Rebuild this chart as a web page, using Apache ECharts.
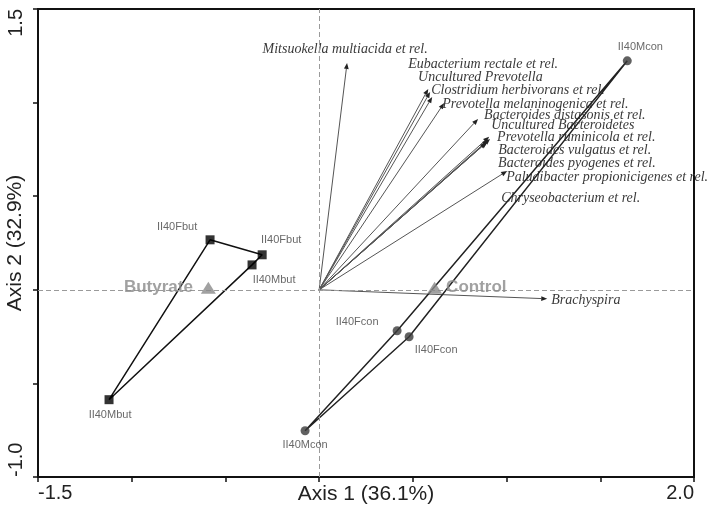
<!DOCTYPE html>
<html>
<head>
<meta charset="utf-8">
<script src="https://cdn.jsdelivr.net/npm/echarts@6/dist/echarts.min.js"></script>
<style>
  html, body { margin: 0; padding: 0; background: #fff; }
  #chart { width: 721px; height: 510px; }
</style>
</head>
<body>
<div id="chart"></div>
<script>
// Ordination scores (Axis 1, Axis 2)
const butyrateNames = ['II40Fbut', 'II40Fbut', 'II40Mbut', 'II40Mbut'];
const butyrateX = [-0.582, -0.304, -0.358, -1.121];
const butyrateY = [0.267, 0.187, 0.133, -0.587];

const controlNames = ['II40Mcon', 'II40Mcon', 'II40Fcon', 'II40Fcon'];
const controlX = [1.644, -0.075, 0.416, 0.480];
const controlY = [1.223, -0.753, -0.219, -0.251];

// Envelope drawing order (indices into the sample arrays)
const butyrateHull = [3, 0, 1, 2, 3];
const controlHull = [0, 2, 1, 3, 0];

const groupNames = ['Butyrate', 'Control'];
const groupX = [-0.591, 0.616];
const groupY = [0.0, 0.0];

// Species vectors
const speciesNames = [
  'Mitsuokella multiacida et rel.',
  'Eubacterium rectale et rel.',
  'Uncultured Prevotella',
  'Clostridium herbivorans et rel.',
  'Prevotella melaninogenica et rel.',
  'Bacteroides distasonis et rel.',
  'Uncultured Bacteroidetes',
  'Prevotella ruminicola et rel.',
  'Bacteroides vulgatus et rel.',
  'Bacteroides pyogenes et rel.',
  'Paludibacter propionicigenes et rel.',
  'Chryseobacterium et rel.',
  'Brachyspira'
];
const speciesX = [0.149, 0.582, 0.592, 0.603, 0.667, 0.848, 0.907, 0.912, 0.902, 0.896, 1.003, 0.891, 1.217];
const speciesY = [1.212, 1.073, 1.057, 1.030, 0.998, 0.913, 0.817, 0.806, 0.801, 0.790, 0.635, 0.785, -0.048];

// Axis ticks
const xTicks = { min: -1.5, max: 2.0, step: 0.5 };
const yTicks = { min: -1.0, max: 1.5, step: 0.5 };
const xAxisTitle = 'Axis 1 (36.1%)';
const yAxisTitle = 'Axis 2 (32.9%)';

// Label placement (pixel offsets from the arrow tip / marker)
const speciesLabelLayout = [
  [-2, -14, 'center'], [-20, -25], [-12, -15], [-1, -7], [-2, 1], [6, -4],
  [2, -12], [7, -2], [10, 10], [11, 21], [-1, 6], [15, 55], [4, 2]
];
const butyrateLabelOffset = [[-33, -13], [19, -15], [22, 15], [1, 15]];
const controlLabelOffset = [[13, -14], [0, 14], [-40, -9], [27, 13]];

const sansFont = '"Liberation Sans", Arial, sans-serif';

function samplePoints(xs, ys, names, offsets) {
  return xs.map((x, i) => ({
    value: [x, ys[i]],
    name: names[i],
    label: { offset: offsets[i] }
  }));
}
function hullPoints(xs, ys, order) {
  return order.map(i => [xs[i], ys[i]]);
}

const chart = echarts.init(document.getElementById('chart'), null, { renderer: 'canvas' });

const tickFormatter = (lo, hi) => v => (Math.abs(v - lo) < 1e-9 || Math.abs(v - hi) < 1e-9) ? v.toFixed(1) : '';

const option = {
  backgroundColor: '#fff',
  animation: false,
  grid: {
    left: 38, right: 27, top: 9, bottom: 33,
    show: true, borderColor: '#111', borderWidth: 2,
    containLabel: false, outerBoundsMode: 'none'
  },
  xAxis: {
    type: 'value', min: xTicks.min, max: xTicks.max, interval: xTicks.step,
    name: xAxisTitle, nameLocation: 'middle', nameGap: 7, nameMoveOverlap: false,
    nameTextStyle: { fontFamily: sansFont, fontSize: 21, color: '#222', verticalAlign: 'top' },
    axisLine: { show: true, onZero: false, lineStyle: { color: '#111', width: 2 } },
    axisTick: { show: true, length: 5, lineStyle: { color: '#111', width: 1.5 } },
    splitLine: { show: false },
    axisLabel: {
      fontFamily: sansFont, fontSize: 20, color: '#222', margin: 6,
      formatter: tickFormatter(xTicks.min, xTicks.max),
      alignMinLabel: 'left', alignMaxLabel: 'right'
    }
  },
  yAxis: {
    type: 'value', min: yTicks.min, max: yTicks.max, interval: yTicks.step,
    name: yAxisTitle, nameLocation: 'middle', nameGap: 12, nameRotate: 90, nameMoveOverlap: false,
    nameTextStyle: { fontFamily: sansFont, fontSize: 21, color: '#222' },
    axisLine: { show: true, onZero: false, lineStyle: { color: '#111', width: 2 } },
    axisTick: { show: true, length: 5, lineStyle: { color: '#111', width: 1.5 } },
    splitLine: { show: false },
    axisLabel: {
      fontFamily: sansFont, fontSize: 20, color: '#222', margin: 12, rotate: 90,
      formatter: tickFormatter(yTicks.min, yTicks.max),
      alignMinLabel: 'left', alignMaxLabel: 'right'
    }
  },
  series: [
    {
      // dashed zero reference lines
      type: 'line', data: [], silent: true,
      markLine: {
        silent: true, symbol: 'none', animation: false,
        label: { show: false },
        lineStyle: { color: '#9a9a9a', type: [5, 3], width: 1 },
        data: [{ xAxis: 0 }, { yAxis: 0 }]
      }
    },
    {
      // species arrows
      type: 'custom', clip: false, silent: true, z: 3,
      data: speciesX.map((x, i) => [x, speciesY[i]]),
      renderItem(params, api) {
        const o = api.coord([0, 0]);
        const t = api.coord([api.value(0), api.value(1)]);
        const i = params.dataIndex;
        const ang = Math.atan2(t[1] - o[1], t[0] - o[0]);
        const L = 6, W = 2.4;
        const c = Math.cos(ang), s = Math.sin(ang);
        const base = [t[0] - L * c, t[1] - L * s];
        const p1 = [base[0] + W * s, base[1] - W * c];
        const p2 = [base[0] - W * s, base[1] + W * c];
        const lay = speciesLabelLayout[i];
        return {
          type: 'group',
          children: [
            { type: 'line', shape: { x1: o[0], y1: o[1], x2: base[0], y2: base[1] },
              style: { stroke: '#555', lineWidth: 1 } },
            { type: 'polygon', shape: { points: [t, p1, p2] }, style: { fill: '#222' } },
            { type: 'text', x: t[0] + lay[0], y: t[1] + lay[1],
              style: { text: speciesNames[i], font: 'italic 14px "Liberation Serif", serif',
                       fill: '#3a3a3a', align: lay[2] || 'left', verticalAlign: 'middle' } }
          ]
        };
      }
    },
    {
      // butyrate envelope
      type: 'line', data: hullPoints(butyrateX, butyrateY, butyrateHull),
      symbol: 'none', silent: true, z: 4,
      lineStyle: { color: '#111', width: 1.5 }
    },
    {
      // control envelope
      type: 'line', data: hullPoints(controlX, controlY, controlHull),
      symbol: 'none', silent: true, z: 4,
      lineStyle: { color: '#222', width: 1.5 }
    },
    {
      type: 'scatter', z: 5, symbol: 'rect', symbolSize: 9,
      itemStyle: { color: '#000' },
      data: samplePoints(butyrateX, butyrateY, butyrateNames, butyrateLabelOffset),
      label: { show: true, position: 'inside', formatter: '{b}', fontFamily: sansFont,
               fontSize: 11, color: '#444' }
    },
    {
      type: 'scatter', z: 5, symbol: 'circle', symbolSize: 9,
      itemStyle: { color: '#3a3a3a' },
      data: samplePoints(controlX, controlY, controlNames, controlLabelOffset),
      label: { show: true, position: 'inside', formatter: '{b}', fontFamily: sansFont,
               fontSize: 11, color: '#444' }
    },
    {
      // group centroids
      type: 'scatter', z: 6, symbol: 'triangle', symbolSize: [15, 12], symbolOffset: [0, -2],
      itemStyle: { color: '#8a8a8a' },
      data: groupX.map((x, i) => ({
        value: [x, groupY[i]], name: groupNames[i],
        label: { position: i === 0 ? 'left' : 'right', distance: i === 0 ? 8 : 4 }
      })),
      label: { show: true, formatter: '{b}', fontFamily: sansFont, fontSize: 17,
               fontWeight: 'bold', color: '#8a8a8a' }
    }
  ]
};

chart.setOption(option);
</script>
</body>
</html>
